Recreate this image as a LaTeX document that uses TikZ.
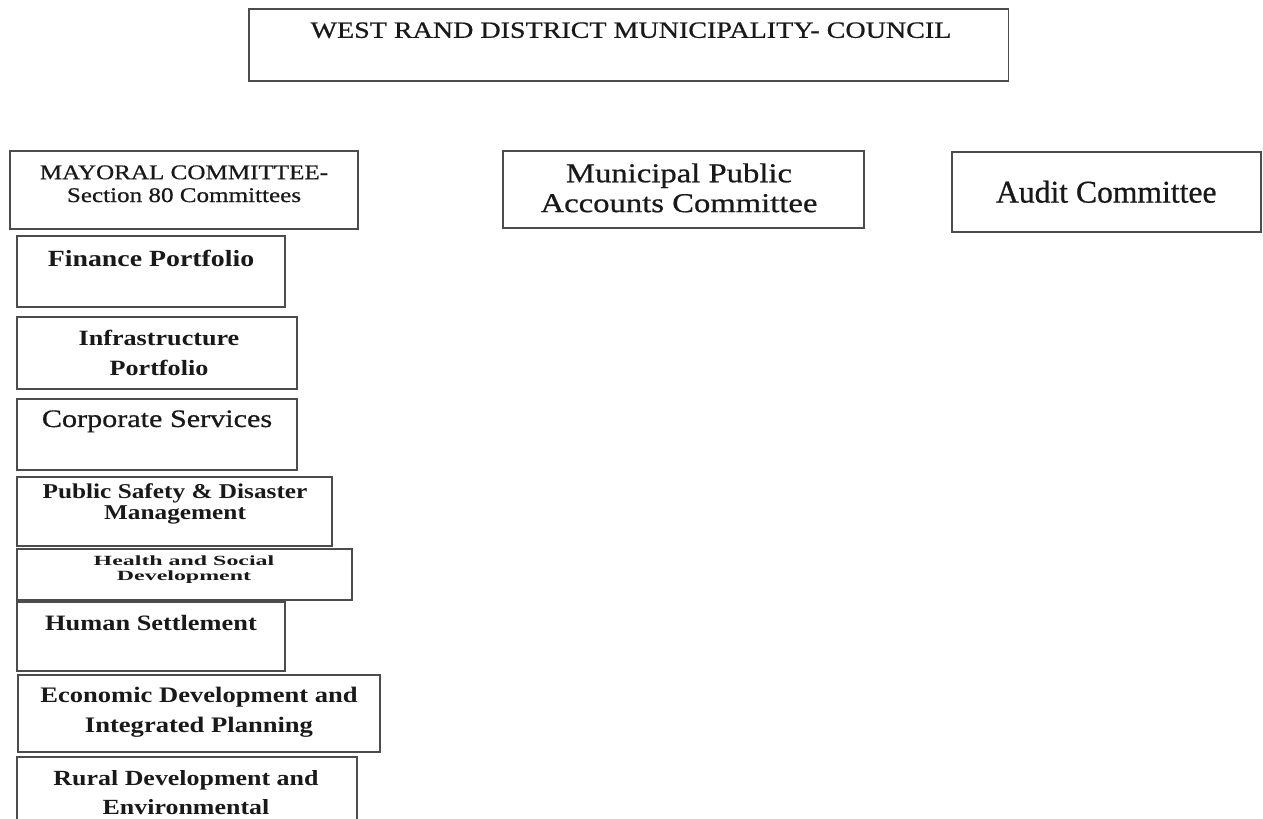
\documentclass[tikz,border=0pt]{standalone}
\usepackage{fontspec}
\setmainfont[FakeStretch=1.2]{Liberation Serif}
\newfontfamily\heavyfont[FakeStretch=1.2,FakeBold=0.7]{Liberation Serif}
\newfontfamily\tallfont[FakeBold=0.7]{Liberation Serif}
\newfontfamily\widefont[FakeStretch=1.7]{Liberation Serif}
\tikzset{
  box/.style={draw=black!70, line width=0.9pt, anchor=north west, inner sep=0pt},
  lbl/.style={anchor=north, align=center, inner sep=0pt, text=black!90},
}
\begin{document}
\begin{tikzpicture}[x=0.02cm, y=-0.02cm]
\useasboundingbox (0,0) rectangle (1263,818);
\clip (0,0) rectangle (1263,818);

% council
\node[box, minimum width=15.2cm, minimum height=1.44cm] (council) at (248,8) {};
\node[lbl, font=\heavyfont\fontsize{13.3}{16}\selectfont] (councilt) at (631,22) {WEST RAND DISTRICT MUNICIPALITY- COUNCIL};

% committees
\node[box, minimum width=6.96cm, minimum height=1.56cm] (mayor) at (9,150) {};
\node[lbl, font=\heavyfont\fontsize{11.9}{13}\selectfont] (mayort) at (184,165) {MAYORAL COMMITTEE-\\Section 80 Committees};

\node[box, minimum width=7.22cm, minimum height=1.54cm] (mpac) at (502,150) {};
\node[lbl, font=\heavyfont\fontsize{15.5}{17}\selectfont] (mpact) at (679,163) {Municipal Public\\Accounts Committee};

\node[box, minimum width=6.18cm, minimum height=1.6cm] (audit) at (951,151) {};
\node[lbl, anchor=center, font=\tallfont\fontsize{18}{20}\selectfont] (auditt) at (audit.center) {Audit Committee};

% portfolios
\node[box, minimum width=5.36cm, minimum height=1.42cm] (fin) at (16,235) {};
\node[lbl, font=\bfseries\fontsize{13.2}{16}\selectfont] (fint) at (151,250) {Finance Portfolio};

\node[box, minimum width=5.6cm, minimum height=1.44cm] (infra) at (16,316) {};
\node[lbl, font=\bfseries\fontsize{12.4}{17}\selectfont] (infrat) at (159,330) {Infrastructure\\Portfolio};

\node[box, minimum width=5.6cm, minimum height=1.42cm] (corp) at (16,398) {};
\node[lbl, font=\heavyfont\fontsize{14.3}{16}\selectfont] (corpt) at (157,410) {Corporate Services};

\node[box, minimum width=6.3cm, minimum height=1.38cm] (safety) at (16,476) {};
\node[lbl, font=\bfseries\fontsize{12}{12}\selectfont] (safetyt) at (175,483) {Public Safety \& Disaster\\Management};

\node[box, minimum width=6.7cm, minimum height=1.02cm] (health) at (16,548) {};
\node[lbl, font=\widefont\bfseries\fontsize{8}{8.5}\selectfont] (healtht) at (184,555) {Health and Social\\Development};

\node[box, minimum width=5.36cm, minimum height=1.38cm] (human) at (16,601) {};
\node[lbl, font=\bfseries\fontsize{12.5}{16}\selectfont] (humant) at (151,615) {Human Settlement};

\node[box, minimum width=7.24cm, minimum height=1.54cm] (econ) at (17,674) {};
\node[lbl, font=\bfseries\fontsize{12.6}{17}\selectfont] (econt) at (199,687) {Economic Development and\\Integrated Planning};

\node[box, minimum width=6.8cm, minimum height=1.6cm] (rural) at (16,756) {};
\node[lbl, font=\bfseries\fontsize{12.3}{16.5}\selectfont] (ruralt) at (186,770) {Rural Development and\\Environmental};
\end{tikzpicture}
\end{document}
